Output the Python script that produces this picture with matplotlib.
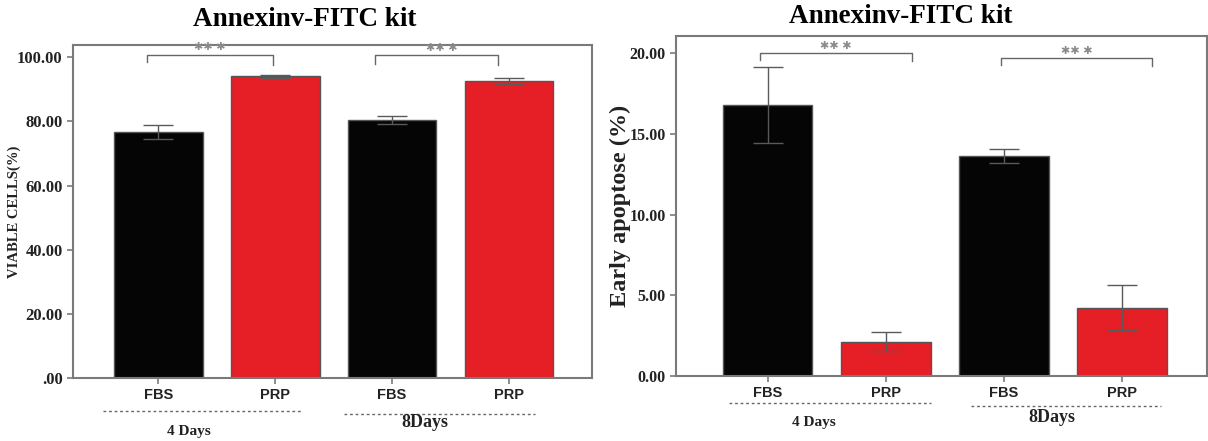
import numpy as np
import matplotlib.pyplot as plt

# data
groups = ["FBS", "PRP", "FBS", "PRP"]
viable = [76.8, 94.0, 80.4, 92.6]
viable_err = [2.2, 0.6, 1.2, 1.0]
early = [16.8, 2.13, 13.66, 4.24]
early_err = [2.37, 0.6, 0.43, 1.4]
colors = ["#050505", "#e61e26", "#050505", "#e61e26"]
day_labels = ["4 Days", "8Days"]

serif = "Liberation Serif"
sans = "Liberation Sans"
frame_col = "#7a7a7a"

fig = plt.figure(figsize=(12.08, 4.41), dpi=100)
ax1 = fig.add_axes([0.0604, 0.1429, 0.4296, 0.755])
ax2 = fig.add_axes([0.5596, 0.1474, 0.4396, 0.771])
x = np.arange(len(groups))


def draw_panel(ax, vals, errs, ylim, xlim, ticks, ticklabels, ylabel, ylabel_size,
               ylabel_x, title_xy, tick_size):
    ax.bar(x, vals, width=0.76, color=colors, edgecolor="#555555", linewidth=1.0, zorder=2)
    ax.errorbar(x, vals, yerr=errs, fmt="none", ecolor="#5a5a5a", elinewidth=1.0,
                capsize=11, capthick=1.0, zorder=3)
    ax.set_xlim(*xlim)
    ax.set_ylim(*ylim)
    ax.set_xticks(x)
    ax.set_xticklabels(groups, fontfamily=sans, fontweight="bold", fontsize=10.5)
    ax.set_yticks(ticks)
    ax.set_yticklabels(ticklabels, fontfamily=serif, fontweight="bold", fontsize=tick_size)
    ax.tick_params(axis="both", colors=frame_col, labelcolor="#222222", length=4, width=1.2)
    ax.tick_params(axis="x", pad=3)
    for s in ax.spines.values():
        s.set_color(frame_col)
        s.set_linewidth(1.5)
    ax.set_ylabel(ylabel, fontfamily=serif, fontweight="bold", fontsize=ylabel_size, color="#222222")
    ax.yaxis.set_label_coords(ylabel_x, 0.5)
    ax.text(title_xy[0], title_xy[1], "Annexinv-FITC kit", transform=ax.transAxes,
            ha="center", va="center", fontfamily=serif, fontweight="bold", fontsize=19.5)


def bracket(ax, x0, x1, ytop, yl, yr, sx, sy):
    ax.plot([x0, x0, x1, x1], [yl, ytop, ytop, yr], color="#666666", lw=1.0, clip_on=False, zorder=4)
    ax.text(sx, sy, "✱✱ ✱", ha="center", va="center", fontsize=8, color="#8a8a8a",
            fontfamily="DejaVu Sans")


def day_marks(ax, spans, labels_pos):
    tr = ax.get_xaxis_transform()
    for (a, b, ly), (lx, ty), lab in zip(spans, labels_pos, day_labels):
        ax.plot([a, b], [ly, ly], transform=tr, color="#666666", lw=1.0,
                linestyle=(0, (2, 2)), clip_on=False)
        ax.text(lx, ty, lab, transform=tr, ha="center", va="center",
                fontfamily=serif, fontweight="bold", fontsize=11 if lab == "4 Days" else 13,
                color="#222222")


# left panel
draw_panel(ax1, viable, viable_err, (0, 103.8), (-0.73, 3.71),
           [0, 20, 40, 60, 80, 100], [".00", "20.00", "40.00", "60.00", "80.00", "100.00"],
           "VIABLE CELLS(%)", 10.5, -0.100, (0.447, 1.078), 12)
bracket(ax1, -0.10, 0.98, 100.8, 98.4, 97.6, 0.44, 103.2)
bracket(ax1, 1.85, 2.91, 100.8, 97.8, 97.6, 2.43, 102.9)
day_marks(ax1, [(-0.47, 1.23, -0.099), (1.59, 3.22, -0.108)],
          [(0.26, -0.162), (2.28, -0.135)])

# right panel
draw_panel(ax2, early, early_err, (0, 21.07), (-0.775, 3.72),
           [0, 5, 10, 15, 20], ["0.00", "5.00", "10.00", "15.00", "20.00"],
           "Early apoptose (%)", 17.5, -0.084, (0.424, 1.056), 11.5)
bracket(ax2, -0.06, 1.22, 20.0, 19.6, 19.55, 0.58, 20.45)
bracket(ax2, 1.98, 3.25, 19.7, 19.25, 19.2, 2.62, 20.15)
day_marks(ax2, [(-0.33, 1.38, -0.079), (1.72, 3.33, -0.088)],
          [(0.39, -0.138), (2.41, -0.121)])

fig.savefig("out.png", dpi=100)
